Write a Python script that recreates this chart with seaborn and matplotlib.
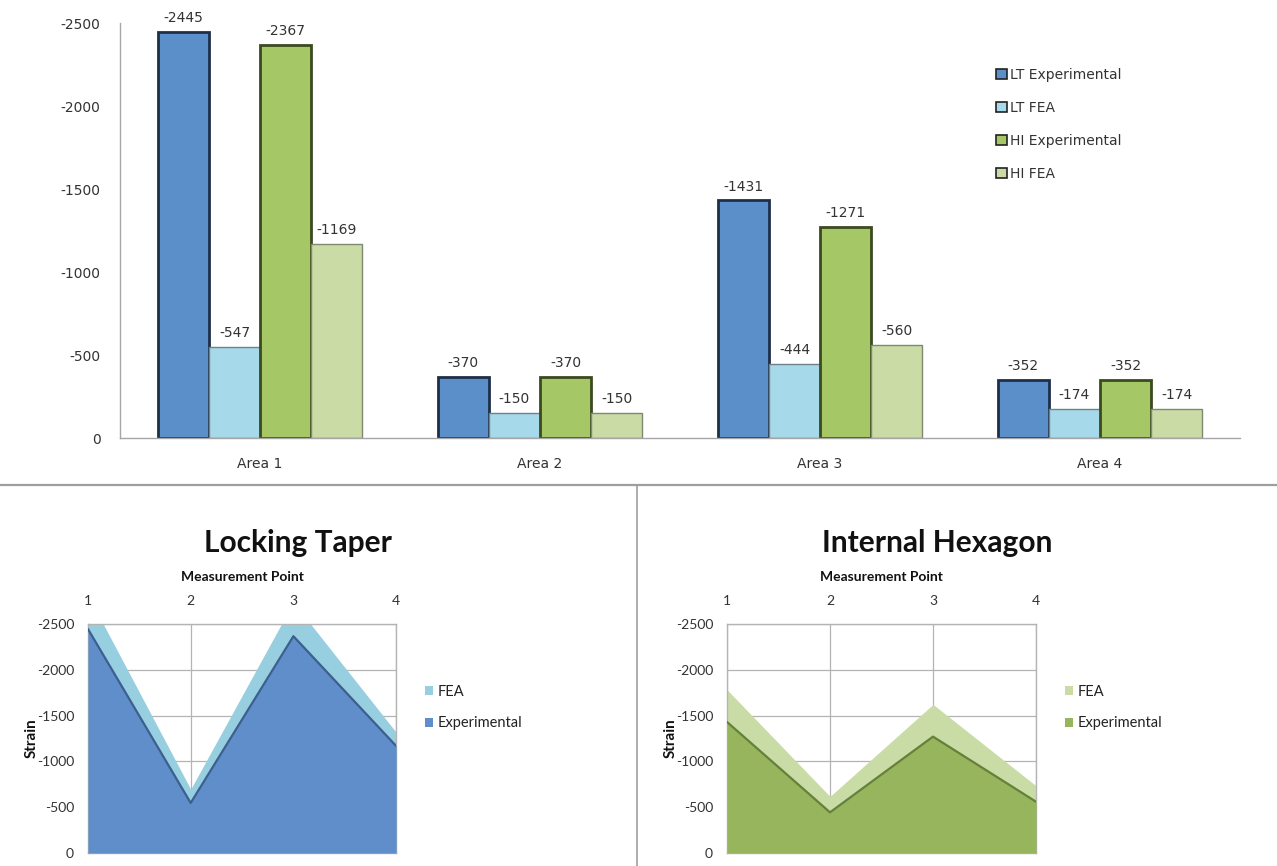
import numpy as np
import pandas as pd
import matplotlib
matplotlib.use("Agg")
import matplotlib.pyplot as plt
import seaborn as sns
from matplotlib.lines import Line2D

# Strain per area for the two implant connections
areas = ["Area 1", "Area 2", "Area 3", "Area 4"]
series = ["LT Experimental", "LT FEA", "HI Experimental", "HI FEA"]
lt_experimental = [-2445, -370, -1431, -352]
lt_fea = [-547, -150, -444, -174]
hi_experimental = [-2367, -370, -1271, -352]
hi_fea = [-1169, -150, -560, -174]

# Stacked strain per measurement point
points = [1, 2, 3, 4]
taper_experimental = [-2445, -547, -2367, -1169]
taper_fea = [-370, -150, -370, -150]
hexagon_experimental = [-1431, -444, -1271, -560]
hexagon_fea = [-352, -174, -352, -174]

strain_ticks = [0, -500, -1000, -1500, -2000, -2500]

sns.set_theme(style="white")
plt.rcParams["font.family"] = ["DejaVu Sans"]
text_col = "#333333"

fig = plt.figure(figsize=(12.77, 8.66), dpi=100)

# ---------------- grouped bar chart ----------------
bar_df = pd.DataFrame({
    "area": np.repeat(areas, 4),
    "series": series * 4,
    "strain": [v for quad in zip(lt_experimental, lt_fea, hi_experimental, hi_fea) for v in quad],
})
bar_colors = ["#5B8FCA", "#A6D9EA", "#A6C765", "#CADBA6"]
edge_colors = ["#1E2F47", "#6F8088", "#3B4A1F", "#7E8872"]
edge_widths = [2.0, 1.0, 2.0, 1.0]

ax = fig.add_axes([0.094, 0.4942, 0.877, 0.4792])
sns.barplot(data=bar_df, x="area", y="strain", hue="series", order=areas,
            hue_order=series, palette=bar_colors, width=0.73, gap=0,
            saturation=1, errorbar=None, ax=ax)
for cont, ec, lw in zip(ax.containers, edge_colors, edge_widths):
    for patch, val in zip(cont, cont.datavalues):
        patch.set_edgecolor(ec)
        patch.set_linewidth(lw)
        ax.annotate(f"{int(val)}", (patch.get_x() + patch.get_width() / 2, val),
                    xytext=(0, 5), textcoords="offset points", ha="center",
                    va="bottom", fontsize=10, color=text_col)
ax.set_ylim(0, -2500)
ax.set_xlim(-0.5, 3.5)
ax.set_yticks(strain_ticks)
ax.set_yticklabels([str(t) for t in strain_ticks])
ax.set_xlabel("")
ax.set_ylabel("")
ax.tick_params(axis="both", length=0, labelsize=10, colors=text_col)
ax.tick_params(axis="y", pad=14)
ax.tick_params(axis="x", pad=14)
for s in ["top", "right"]:
    ax.spines[s].set_visible(False)
for s in ["left", "bottom"]:
    ax.spines[s].set_color("#A6A6A6")
    ax.spines[s].set_linewidth(1.0)
leg = ax.legend(loc="upper left", bbox_to_anchor=(0.7775, 0.905), frameon=False,
                fontsize=10, labelspacing=1.36, handlelength=0.75,
                handleheight=0.75, handletextpad=0.25, borderaxespad=0)
for h, ec in zip(leg.legend_handles, edge_colors):
    h.set_edgecolor("#222222")
    h.set_linewidth(1.2)
for t in leg.get_texts():
    t.set_color(text_col)

# ---------------- stacked area panels ----------------
def area_panel(rect, title, exp_vals, fea_vals, exp_col, fea_col, line_col):
    a = fig.add_axes(rect)
    exp_vals = np.array(exp_vals, dtype=float)
    top_vals = exp_vals + np.array(fea_vals, dtype=float)
    a.fill_between(points, 0, top_vals, color=fea_col, lw=0, zorder=2, label="FEA")
    a.fill_between(points, 0, exp_vals, color=exp_col, lw=0, zorder=3, label="Experimental")
    sns.lineplot(x=points, y=exp_vals, color=line_col, lw=1.6, ax=a, zorder=4)
    a.set_xlim(1, 4)
    a.set_ylim(0, -2500)
    a.set_xticks(points)
    a.set_yticks(strain_ticks)
    a.set_yticklabels([str(t) for t in strain_ticks])
    a.xaxis.tick_top()
    a.xaxis.set_label_position("top")
    a.set_xlabel("Measurement Point", fontsize=10, fontweight="bold",
                 family="Lato", color="#111111", labelpad=10)
    a.set_ylabel("Strain", fontsize=11, fontweight="bold", family="Lato",
                 color="#111111", labelpad=-1.5)
    a.set_title(title, fontsize=21.5, fontweight="bold", family="Lato",
                color="#111111", pad=14, x=0.68)
    a.tick_params(axis="both", length=0, labelsize=10, colors=text_col)
    a.tick_params(axis="y", pad=10)
    a.tick_params(axis="x", pad=12)
    for lbl in a.get_xticklabels() + a.get_yticklabels():
        lbl.set_family("Lato")
    a.grid(True, color="#B4B4B4", lw=0.9)
    a.set_axisbelow(True)
    for s in a.spines.values():
        s.set_color("#B4B4B4")
        s.set_linewidth(1.0)
    handles, labels = a.get_legend_handles_labels()
    lg = a.legend(handles[:2], labels[:2], loc="center left",
                  bbox_to_anchor=(1.05, 0.635), frameon=False,
                  prop={"family": "Lato", "size": 10.5}, labelspacing=1.2,
                  handlelength=0.6, handleheight=0.6, handletextpad=0.3)
    for t in lg.get_texts():
        t.set_color("#222222")
    return a

area_panel([0.0689, 0.0150, 0.2413, 0.2644], "Locking Taper",
           taper_experimental, taper_fea, "#5F8ECB", "#97CFE0", "#3C5F8E")
area_panel([0.5693, 0.0150, 0.2420, 0.2644], "Internal Hexagon",
           hexagon_experimental, hexagon_fea, "#97B55C", "#C9DCA6", "#64803A")

# panel separators
fig.add_artist(Line2D([0, 1], [0.44, 0.44], transform=fig.transFigure,
                      color="#9E9E9E", lw=1.6))
fig.add_artist(Line2D([0.4988, 0.4988], [0, 0.44], transform=fig.transFigure,
                      color="#9E9E9E", lw=1.2))

fig.savefig("out.png", dpi=100)
